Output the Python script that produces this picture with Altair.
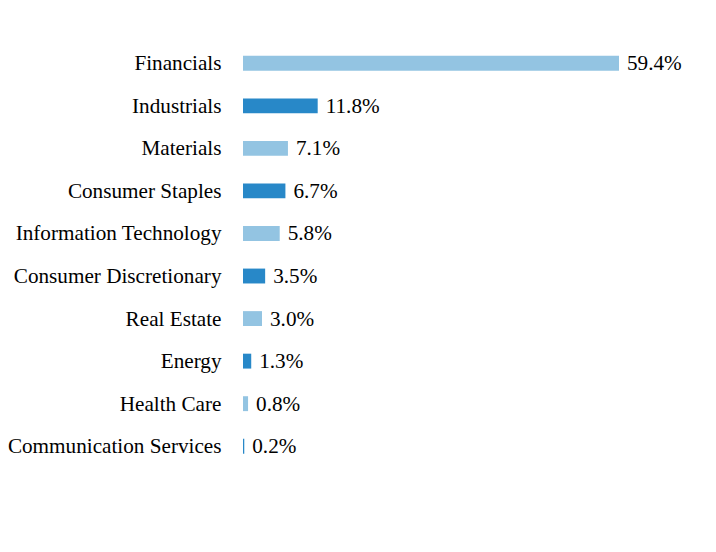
import altair as alt
import pandas as pd

sectors = ["Financials", "Industrials", "Materials", "Consumer Staples",
           "Information Technology", "Consumer Discretionary", "Real Estate",
           "Energy", "Health Care", "Communication Services"]
values = [59.4, 11.8, 7.1, 6.7, 5.8, 3.5, 3.0, 1.3, 0.8, 0.2]
shade = ["light", "dark"] * 5

df = pd.DataFrame({"sector": sectors, "value": values, "shade": shade})
df["label"] = df["value"].map(lambda v: f"{v:.1f}%")

y = alt.Y("sector:N", sort=sectors, title=None,
          scale=alt.Scale(paddingInner=0.65, paddingOuter=0.325),
          axis=alt.Axis(domain=False, ticks=False, labelPadding=22,
                        labelFont="Liberation Serif", labelFontSize=21.2,
                        labelOffset=1,
                        labelColor="black", labelLimit=400))
x = alt.X("value:Q", title=None,
          scale=alt.Scale(domain=[0, 59.4], nice=False),
          axis=None)

bars = alt.Chart(df).mark_bar().encode(
    x=x, y=y,
    color=alt.Color("shade:N", legend=None,
                    scale=alt.Scale(domain=["light", "dark"],
                                    range=["#93C4E2", "#2888C8"])))

text = alt.Chart(df).mark_text(align="left", baseline="middle", dx=8, dy=1,
                               font="Liberation Serif", fontSize=21.2,
                               color="black").encode(
    x=x, y=y, text="label:N")

chart = (bars + text).properties(
    width=376, height=425.5,
    autosize=alt.AutoSizeParams(type="none"),
    padding={"left": 243, "top": 42, "right": 97, "bottom": 84},
    background="white",
).configure_view(stroke=None)

chart.save("out.html", embed_options={"renderer": "svg", "actions": False})
